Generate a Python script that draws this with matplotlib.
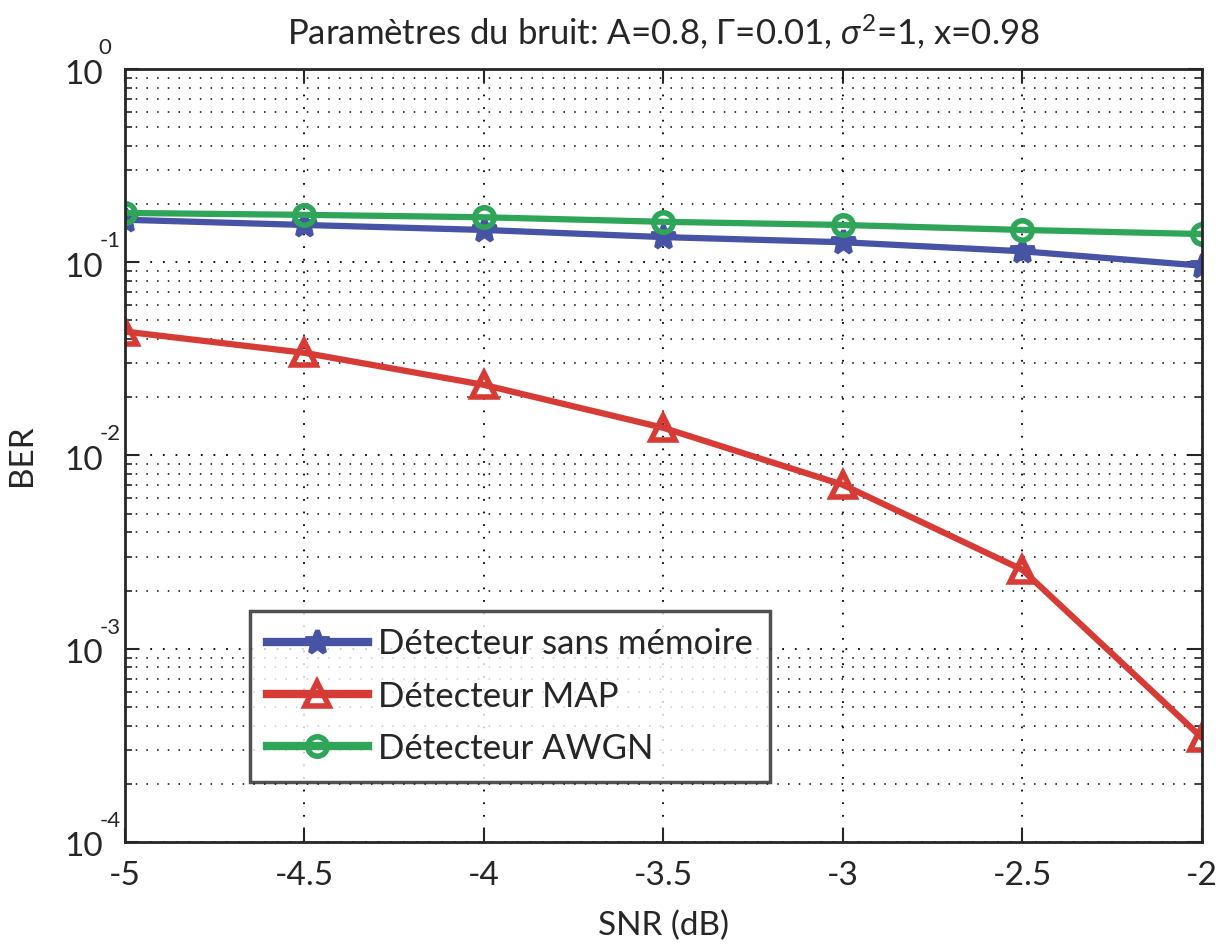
import math
import matplotlib
matplotlib.use("Agg")
import matplotlib.pyplot as plt
from matplotlib.ticker import LogLocator, FixedLocator, NullFormatter

plt.rcParams['font.family'] = ['Lato', 'DejaVu Sans']
plt.rcParams['mathtext.fontset'] = 'custom'
plt.rcParams['mathtext.rm'] = 'Lato'
plt.rcParams['mathtext.it'] = 'Lato:italic'

snr = [-5, -4.5, -4, -3.5, -3, -2.5, -2]
ber_sans_memoire = [0.166, 0.156, 0.147, 0.135, 0.127, 0.114, 0.096]
ber_map = [0.0438, 0.034, 0.0232, 0.0139, 0.00705, 0.00256, 0.000346]
ber_awgn = [0.180, 0.176, 0.171, 0.162, 0.156, 0.147, 0.140]
labels = ['Détecteur sans mémoire', 'Détecteur MAP', 'Détecteur AWGN']
xticks = [-5, -4.5, -4, -3.5, -3, -2.5, -2]
xticklabels = ['-5', '-4.5', '-4', '-3.5', '-3', '-2.5', '-2']
ydecades = [1e-4, 1e-3, 1e-2, 1e-1, 1]

fig = plt.figure(figsize=(12.24, 9.46), dpi=100)
ax = fig.add_axes([0.102, 0.110, 0.880, 0.817])

ax.semilogy(snr, ber_sans_memoire, color='#4753a4', lw=4.5, marker='*', ms=18,
            mew=3.5, label=labels[0])
ax.semilogy(snr, ber_map, color='#d63b35', lw=4.5, marker='^', ms=17,
            mfc='none', mew=4, label=labels[1])
ax.semilogy(snr, ber_awgn, color='#2fa55a', lw=4.5, marker='o', ms=14,
            mfc='none', mew=4, label=labels[2])

ax.set_xlim(-5, -2)
ax.set_ylim(1e-4, 1)
ax.set_xticks(xticks)
ax.set_xticklabels(xticklabels)
ax.yaxis.set_major_locator(FixedLocator(ydecades))
ax.yaxis.set_major_formatter(NullFormatter())
ax.yaxis.set_minor_locator(LogLocator(base=10, subs=range(2, 10), numticks=20))
ax.yaxis.set_minor_formatter(NullFormatter())

# MATLAB-style decade labels: "10" with exponent set above-right
for v in ydecades:
    e = int(round(math.log10(v)))
    ax.annotate('10', xy=(0, v), xycoords=('axes fraction', 'data'),
                xytext=(-15.5, -4.0), textcoords='offset points',
                ha='right', va='center', fontsize=24, color='#262626',
                annotation_clip=False)
    ax.annotate(str(e), xy=(0, v), xycoords=('axes fraction', 'data'),
                xytext=(-18.5 if e < 0 else -19, 8), textcoords='offset points',
                ha='left', va='bottom', fontsize=16, color='#262626',
                annotation_clip=False)

ax.grid(True, which='major', color='black', linestyle=(0, (1, 6)), lw=1.3)
ax.grid(True, which='minor', axis='y', color='black', linestyle=(0, (1, 6)), lw=1.1)

ax.tick_params(which='both', direction='in', top=True, right=True, colors='#262626')
ax.tick_params(which='major', length=10, width=1.5, labelsize=24, pad=14)
ax.tick_params(which='minor', length=5, width=1.2)
for s in ax.spines.values():
    s.set_linewidth(2)
    s.set_color('#262626')

ax.set_xlabel('SNR (dB)', fontsize=24, labelpad=14, color='#262626')
ax.set_ylabel('BER', fontsize=24, labelpad=49, color='#262626')
ax.set_title(r'Paramètres du bruit: A=0.8, $\Gamma$=0.01, $\sigma^2$=1, x=0.98',
             fontsize=25, pad=18, color='#262626')

leg = ax.legend(loc='lower left', bbox_to_anchor=(0.116, 0.078), fontsize=25,
                frameon=True, fancybox=False, edgecolor='#262626', handlelength=2.9,
                handletextpad=0.3, borderpad=0.49, labelspacing=0.58, borderaxespad=0)
leg.get_frame().set_linewidth(2.5)
for t in leg.get_texts():
    t.set_color('#262626')
for h in leg.legend_handles:
    h.set_linewidth(6)

fig.savefig('out.png', dpi=100)
